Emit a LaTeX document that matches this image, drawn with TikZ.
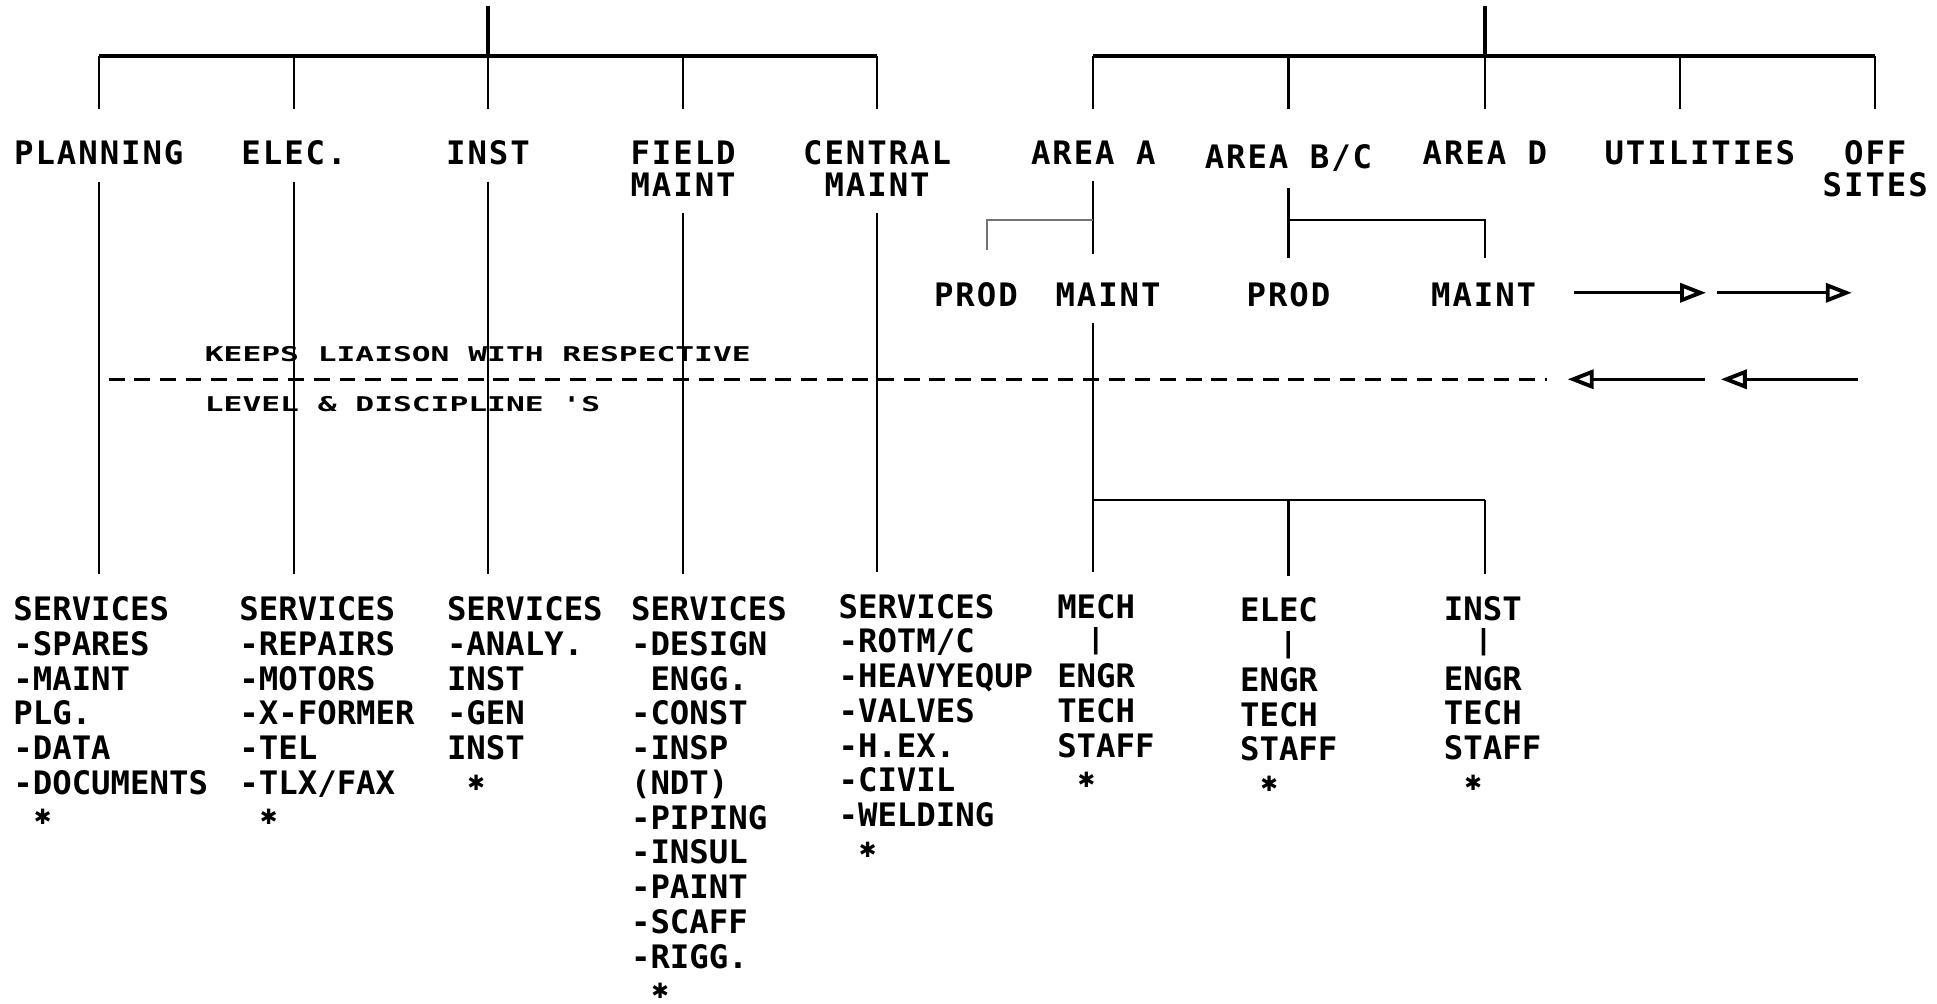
\documentclass[tikz,border=0pt]{standalone}
\usepackage{fontspec}
\setmonofont{DejaVu Sans Mono}
\newfontfamily\labfont[LetterSpace=6]{DejaVu Sans Mono}
\newfontfamily\mkfont{DejaVu Sans}
\usetikzlibrary{arrows.meta}
% end-of-list mark, centred in the second character cell
\newcommand\mk{\phantom{X}\rlap{\hbox to \fontcharwd\font`X{\hss\raisebox{1.2pt}{\mkfont\bfseries\fontsize{6}{6}\selectfont ✱}\hss}}}

\begin{document}
\begin{tikzpicture}[x=0.012353cm, y=-0.012353cm, line width=0.6pt,
  lab/.style={font=\labfont\bfseries\fontsize{9.2}{9.1}\selectfont, inner sep=0pt, align=center, anchor=north},
  col/.style={font=\ttfamily\bfseries\fontsize{9.2}{9.9}\selectfont, inner sep=0pt, align=left, anchor=north west},
  note/.style={font=\ttfamily\bfseries\fontsize{8.9}{9}\selectfont, inner sep=0pt, anchor=base west},
  bus/.style={line width=1.1pt},
  drop/.style={shorten <=4.5pt, shorten >=6pt},
  tip/.style={-{Triangle[open, length=2.6mm, width=1.9mm, line width=1.1pt]}, line width=0.9pt}]
	\useasboundingbox (0,0) rectangle (1568,812);
	% left tree
	\coordinate (topL) at (395,5);
	\coordinate (busL) at (395,45);
	\node[lab] (plan) at (80,113) {PLANNING};
	\node[lab] (elec) at (238,113) {ELEC.};
	\node[lab] (inst) at (395,113) {INST};
	\node[lab] (field) at (553,113) {FIELD\\MAINT};
	\node[lab] (central) at (710,113) {CENTRAL\\MAINT};
	\draw[bus] (topL) -- (busL);
	\draw[bus] (plan.north |- busL) -- (central.north |- busL);
	\foreach \n in {plan,elec,inst,field,central} {\draw (\n.north |- busL) -- (\n.north |- 0,88);}
	% right tree
	\coordinate (topR) at (1202,5);
	\coordinate (busR) at (1202,45);
	\node[lab] (areaA) at (885,113) {AREA A};
	\node[lab] (areaBC) at (1043,116) {AREA B/C};
	\node[lab] (areaD) at (1202,113) {AREA D};
	\node[lab] (util) at (1376,113) {UTILITIES};
	\node[lab] (off) at (1518,113) {OFF\\SITES};
	\draw[bus] (topR) -- (busR);
	\draw[bus] (areaA.north |- busR) -- (off.north |- busR);
	\foreach \n in {areaA,areaBC,areaD,off} {\draw (\n.north |- busR) -- (\n.north |- 0,88);}
	\draw (1360,45) -- (1360,88);
	% service lists
	\node[col] (plansv) at (10,482) {SERVICES\\-SPARES\\-MAINT\\PLG.\\-DATA\\-DOCUMENTS\\\mk};
	\node[col] (elecsv) at (193,482) {SERVICES\\-REPAIRS\\-MOTORS\\-X-FORMER\\-TEL\\-TLX/FAX\\\mk};
	\node[col] (instsv) at (361,482) {SERVICES\\-ANALY.\\INST\\-GEN\\INST\\\mk};
	\node[col] (fieldsv) at (510,482) {SERVICES\\-DESIGN\\\phantom{-}ENGG.\\-CONST\\-INSP\\(NDT)\\-PIPING\\-INSUL\\-PAINT\\-SCAFF\\-RIGG.\\\mk};
	\node[col] (centsv) at (678,480) {SERVICES\\-ROTM/C\\-HEAVYEQUP\\-VALVES\\-H.EX.\\-CIVIL\\-WELDING\\\mk};
	\foreach \n/\s in {plan/plansv, elec/elecsv, inst/instsv, field/fieldsv, central/centsv} {\draw[drop] (\n.south) -- (\n.south |- \s.north);}
	% area A and B/C
	\node[lab] (aprod) at (790,228) {PROD};
	\node[lab] (amaint) at (897,228) {MAINT};
	\node[lab] (bprod) at (1043,228) {PROD};
	\node[lab] (dmaint) at (1201,228) {MAINT};
	\draw[shorten <=4.5pt] (areaA.south) -- (areaA.south |- 0,206);
	\draw[black!55] (areaA.south |- 0,178) -- (799,178) -- (799,202);
	\draw[shorten <=4.5pt] (areaBC.south) -- (areaBC.south |- 0,209);
	\draw (areaBC.south |- 0,178) -| (1202,209);
	% discipline staff
	\node[col] (mech) at (855,480) {MECH\\\phantom{X}\\ENGR\\TECH\\STAFF\\\mk};
	\node[col] (elec2) at (1003,483) {ELEC\\\phantom{X}\\ENGR\\TECH\\STAFF\\\mk};
	\node[col] (inst2) at (1168,482) {INST\\\phantom{X}\\ENGR\\TECH\\STAFF\\\mk};
	\node[col, anchor=center] (mechbar) at (887,519) {\scalebox{1}[0.85]{|}};
	\node[col, anchor=center] (elecbar) at (1043,522) {\scalebox{1}[0.85]{|}};
	\node[col, anchor=center] (instbar) at (1201,520) {\scalebox{1}[0.85]{|}};
	\draw[drop] (amaint.south -| areaA.south) -- (areaA.south |- mech.north);
	\draw (areaA.south |- 0,405) -- (1202,405);
	\draw[shorten >=6pt] (1043,405) -- (1043,483);
	\draw[shorten >=6pt] (1202,405) -- (1202,482);
	% liaison line
	\coordinate (dl) at (88,307);
	\coordinate (dr) at (1252,307);
	\draw[line width=0.9pt, dash pattern=on 4.5pt off 2.8pt] (dl) -- (dr);
	\node[note] (note1) at (165,293) {\scalebox{1}[0.65]{KEEPS LIAISON WITH RESPECTIVE}};
	\node[note] (note2) at (165,333) {\scalebox{1}[0.65]{LEVEL \& DISCIPLINE 'S}};
	\coordinate (r1) at (1274,237); \coordinate (r2) at (1381,237);
	\coordinate (r3) at (1390,237); \coordinate (r4) at (1499,237);
	\coordinate (l1) at (1380,307); \coordinate (l2) at (1269,307);
	\coordinate (l3) at (1504,307); \coordinate (l4) at (1393,307);
	\foreach \a/\b in {r1/r2, r3/r4, l1/l2, l3/l4} {\draw[tip] (\a) -- (\b);}
\end{tikzpicture}
\end{document}
